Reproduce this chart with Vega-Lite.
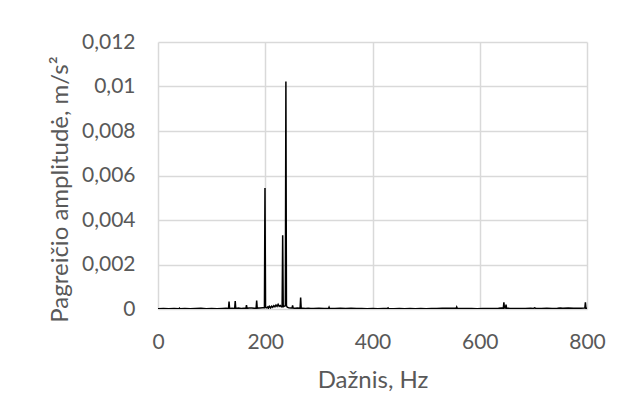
{
  "$schema": "https://vega.github.io/schema/vega-lite/v6.json",
  "width": 429,
  "height": 267,
  "autosize": {"type": "none"},
  "padding": {"left": 158, "top": 42, "right": 41, "bottom": 111},
  "background": "white",
  "config": {
    "view": {"stroke": null},
    "font": "Lato",
    "axis": {
      "labelFont": "Lato",
      "titleFont": "Lato",
      "labelColor": "#595959",
      "titleColor": "#595959",
      "labelFontSize": 21,
      "titleFontSize": 24,
      "titleFontWeight": "normal",
      "gridColor": "#d9d9d9",
      "gridWidth": 1.5,
      "domain": false,
      "ticks": false,
      "labelFlush": false
    }
  },
  "data": {
    "values": [
      {"f": 0, "a": 0.00001}, {"f": 10, "a": 0.00002}, {"f": 20, "a": 0.00001}, {"f": 30, "a": 0.00002},
      {"f": 39, "a": 0.00001}, {"f": 40, "a": 0.00004}, {"f": 41, "a": 0.00001}, {"f": 50, "a": 0.00002},
      {"f": 60, "a": 0.00001}, {"f": 70, "a": 0.00002}, {"f": 80, "a": 0.00003}, {"f": 90, "a": 0.00001},
      {"f": 100, "a": 0.00002}, {"f": 110, "a": 0.00001}, {"f": 120, "a": 0.00002}, {"f": 127, "a": 0.00003},
      {"f": 131.5, "a": 0.00002}, {"f": 132.5, "a": 0.00034}, {"f": 133.5, "a": 0.00002},
      {"f": 138, "a": 0.00003}, {"f": 143, "a": 0.00002}, {"f": 144, "a": 0.00036}, {"f": 145, "a": 0.00002},
      {"f": 150, "a": 0.00004}, {"f": 155, "a": 0.00002}, {"f": 160, "a": 0.00003},
      {"f": 164, "a": 0.00003}, {"f": 165, "a": 0.00017}, {"f": 166, "a": 0.00003},
      {"f": 170, "a": 0.00004}, {"f": 175, "a": 0.00005}, {"f": 180, "a": 0.00003},
      {"f": 183, "a": 0.00004}, {"f": 184, "a": 0.00038}, {"f": 185, "a": 0.00004},
      {"f": 190, "a": 0.00005}, {"f": 195, "a": 0.00006}, {"f": 198.5, "a": 0.00006},
      {"f": 199.5, "a": 0.00544}, {"f": 200.5, "a": 0.00008},
      {"f": 203, "a": 0.00005}, {"f": 205, "a": 0.0001}, {"f": 206, "a": 0.00004}, {"f": 208, "a": 0.00012},
      {"f": 210, "a": 0.00005}, {"f": 212, "a": 0.00013}, {"f": 214, "a": 0.00008}, {"f": 216, "a": 0.00015},
      {"f": 218, "a": 0.0001}, {"f": 220, "a": 0.00018}, {"f": 222, "a": 0.00012}, {"f": 224, "a": 0.00021},
      {"f": 226, "a": 0.00012}, {"f": 228, "a": 0.00016}, {"f": 230, "a": 0.0001},
      {"f": 231.5, "a": 0.00012}, {"f": 232.5, "a": 0.00331}, {"f": 233.5, "a": 0.0001},
      {"f": 235, "a": 0.00012}, {"f": 237.5, "a": 0.00015}, {"f": 238.5, "a": 0.01023}, {"f": 239.5, "a": 0.00015},
      {"f": 241, "a": 0.00008}, {"f": 244, "a": 0.00005}, {"f": 248, "a": 0.00004},
      {"f": 250, "a": 0.00004}, {"f": 251, "a": 0.00016}, {"f": 252, "a": 0.00004},
      {"f": 256, "a": 0.00003}, {"f": 260, "a": 0.00004}, {"f": 265, "a": 0.00003},
      {"f": 266, "a": 0.00052}, {"f": 267, "a": 0.00003}, {"f": 270, "a": 0.00003},
      {"f": 275, "a": 0.00002}, {"f": 280, "a": 0.00003}, {"f": 285, "a": 0.00002}, {"f": 290, "a": 0.00002},
      {"f": 300, "a": 0.00003}, {"f": 310, "a": 0.00002}, {"f": 318, "a": 0.00002}, {"f": 319, "a": 0.00008},
      {"f": 320, "a": 0.00002}, {"f": 330, "a": 0.00002}, {"f": 340, "a": 0.00003}, {"f": 350, "a": 0.00002},
      {"f": 360, "a": 0.00003}, {"f": 370, "a": 0.00002}, {"f": 380, "a": 0.00002}, {"f": 390, "a": 0.00001},
      {"f": 400, "a": 0.00002}, {"f": 410, "a": 0.00001}, {"f": 420, "a": 0.00002}, {"f": 428, "a": 0.00002},
      {"f": 429, "a": 0.00005}, {"f": 430, "a": 0.00002}, {"f": 440, "a": 0.00001}, {"f": 450, "a": 0.00002},
      {"f": 460, "a": 0.00001}, {"f": 470, "a": 0.00002}, {"f": 480, "a": 0.00001}, {"f": 490, "a": 0.00002},
      {"f": 500, "a": 0.00001}, {"f": 510, "a": 0.00002}, {"f": 520, "a": 0.00002}, {"f": 530, "a": 0.00003},
      {"f": 540, "a": 0.00003}, {"f": 550, "a": 0.00003}, {"f": 556, "a": 0.00003}, {"f": 557, "a": 0.00009},
      {"f": 558, "a": 0.00003}, {"f": 565, "a": 0.00002}, {"f": 575, "a": 0.00002}, {"f": 585, "a": 0.00002},
      {"f": 595, "a": 0.00001}, {"f": 605, "a": 0.00002}, {"f": 615, "a": 0.00002}, {"f": 625, "a": 0.00002},
      {"f": 635, "a": 0.00003}, {"f": 640, "a": 0.00005}, {"f": 644, "a": 0.00004}, {"f": 645, "a": 0.0003},
      {"f": 646, "a": 0.00005}, {"f": 648, "a": 0.00004}, {"f": 649, "a": 0.0002}, {"f": 650, "a": 0.00004},
      {"f": 655, "a": 0.00003}, {"f": 665, "a": 0.00002}, {"f": 675, "a": 0.00002}, {"f": 685, "a": 0.00002},
      {"f": 695, "a": 0.00003}, {"f": 700, "a": 0.00002}, {"f": 702, "a": 0.00005}, {"f": 705, "a": 0.00002},
      {"f": 715, "a": 0.00002}, {"f": 725, "a": 0.00003}, {"f": 735, "a": 0.00002}, {"f": 745, "a": 0.00003},
      {"f": 750, "a": 0.00005}, {"f": 755, "a": 0.00003}, {"f": 765, "a": 0.00004}, {"f": 775, "a": 0.00003},
      {"f": 785, "a": 0.00003}, {"f": 795, "a": 0.00004}, {"f": 796, "a": 0.00004}, {"f": 797, "a": 0.0003},
      {"f": 798, "a": 0.00003}, {"f": 800, "a": 0.00003}
    ]
  },
  "mark": {"type": "line", "color": "#000000", "strokeWidth": 1.5, "clip": true},
  "encoding": {
    "x": {
      "field": "f",
      "type": "quantitative",
      "scale": {"domain": [0, 800], "nice": false},
      "axis": {
        "values": [0, 200, 400, 600, 800],
        "title": "Dažnis, Hz",
        "labelPadding": 22,
        "titleBaseline": "alphabetic",
        "titleY": 78
      }
    },
    "y": {
      "field": "a",
      "type": "quantitative",
      "scale": {"domain": [0, 0.012], "nice": false},
      "axis": {
        "values": [0, 0.002, 0.004, 0.006, 0.008, 0.01, 0.012],
        "labelExpr": "replace(format(datum.value, '~g'), '.', ',')",
        "title": "Pagreičio amplitudė, m/s²",
        "labelPadding": 23,
        "titleBaseline": "alphabetic",
        "titleX": -91,
        "titleY": 147
      }
    }
  }
}
